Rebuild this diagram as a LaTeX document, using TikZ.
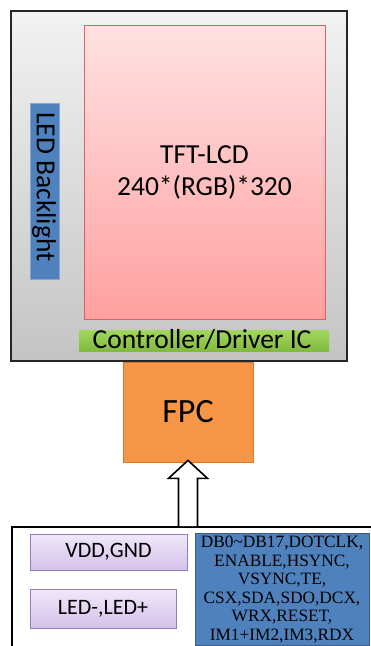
\documentclass[tikz,border=0pt]{standalone}
\usepackage{fontspec}
\setmainfont{Carlito}
\newfontfamily\tnr{Liberation Serif}
\usetikzlibrary{calc}
\definecolor{grayTop}{RGB}{242,242,242}
\definecolor{grayBot}{RGB}{196,196,196}
\definecolor{pinkTop}{RGB}{255,226,226}
\definecolor{pinkBot}{RGB}{255,160,160}
\definecolor{pinkEdge}{RGB}{222,96,96}
\definecolor{ledBlue}{RGB}{79,129,189}
\definecolor{ledEdge}{RGB}{56,93,138}
\definecolor{greenTop}{RGB}{160,214,92}
\definecolor{greenBot}{RGB}{128,186,60}
\definecolor{fpcOrange}{RGB}{247,150,70}
\definecolor{fpcEdge}{RGB}{214,120,50}
\definecolor{purTop}{RGB}{240,232,250}
\definecolor{purBot}{RGB}{212,194,234}
\definecolor{purEdge}{RGB}{150,124,190}
\tikzset{
  box/.style={rectangle, inner sep=0pt, align=center},
  outerbox/.style={box, draw=black!85, line width=1.3pt, top color=grayTop, bottom color=grayBot},
  lcdbox/.style={box, draw=pinkEdge, line width=0.8pt, top color=pinkTop, bottom color=pinkBot, font=\fontsize{27.5}{32}\selectfont},
  ledbox/.style={box, draw=ledBlue!70!white, line width=0.8pt, fill=ledBlue, font=\fontsize{27.5}{32}\selectfont},
  ctrlbox/.style={box, top color=greenTop, bottom color=greenBot, font=\fontsize{27.5}{32}\selectfont},
  fpcbox/.style={box, draw=fpcEdge, line width=0.8pt, fill=fpcOrange, font=\fontsize{34}{40}\selectfont},
  purbox/.style={box, draw=purEdge, line width=0.8pt, top color=purTop, bottom color=purBot, font=\fontsize{22}{26}\selectfont},
  sigbox/.style={box, draw=ledEdge, line width=0.8pt, fill=ledBlue, font=\tnr\fontsize{17.3}{18.6}\selectfont},
  hollowarrow/.style={draw=black, line width=1.6pt, fill=white, line join=miter}
}
\begin{document}
\begin{tikzpicture}[x=1pt,y=-1pt]
\useasboundingbox (0,0) rectangle (371,646);
\clip (0,0) rectangle (371,646);
\fill[white] (0,0) rectangle (371,646);

\node[outerbox, minimum width=336pt, minimum height=350pt] (outer) at (179,186) {};
\node[lcdbox, minimum width=241pt, minimum height=294pt] (lcd) at (204.5,172) {TFT-LCD\\240*(RGB)*320};
\node[ledbox, minimum width=29pt, minimum height=176pt] (led) at (44.5,191.5) {};
\node[rotate=-90, inner sep=0pt, font=\fontsize{27.5}{32}\selectfont] (ledtxt) at (44,187) {LED Backlight};
\node[ctrlbox, minimum width=250pt, minimum height=21pt] (ctrl) at (204,341) {};
\node[inner sep=0pt, font=\fontsize{27.5}{32}\selectfont, anchor=base] (ctrltxt) at (202,348) {Controller/Driver IC};

\node[fpcbox, minimum width=130pt, minimum height=100pt] (fpc) at (188,412) {FPC};

\node[draw=black, line width=1.8pt, fill=white, rectangle, inner sep=0pt, anchor=north west,
      minimum width=380pt, minimum height=140pt] (bottom) at (11,526) {};

\node[purbox, minimum width=157pt, minimum height=36pt] (vdd) at (108.5,552) {VDD,GND};
\node[purbox, minimum width=146pt, minimum height=39pt] (ledpm) at (103,608.5) {LED-,LED+};
\node[sigbox, minimum width=174pt, minimum height=112pt] (sig) at (282,589.5)
  {DB0\char`\~DB17,DOTCLK,\\ENABLE,HSYNC,\\VSYNC,TE,\\CSX,SDA,SDO,DCX,\\WRX,RESET,\\IM1+IM2,IM3,RDX};

% hollow block arrow from the bottom block up to the FPC
\coordinate (tip) at ($(fpc.south)+(0,-2)$);
\coordinate (base) at (fpc.south |- bottom.north);
\draw[hollowarrow]
  ($(base)+(-9.5,0)$) -- ($(tip)+(-9.5,18)$) -- ($(tip)+(-19.5,18)$) -- (tip)
  -- ($(tip)+(19.5,18)$) -- ($(tip)+(9.5,18)$) -- ($(base)+(9.5,0)$);
\end{tikzpicture}
\end{document}
